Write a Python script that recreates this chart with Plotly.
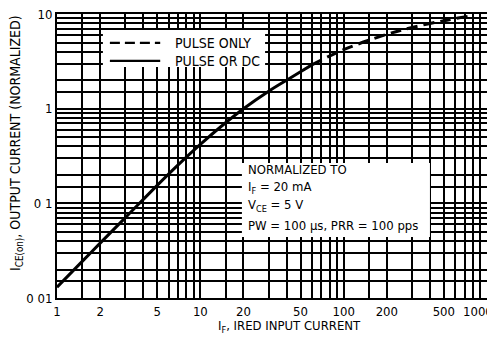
import plotly.graph_objects as go

# Data
solid_x = [1, 1.5, 2, 3, 5, 7, 10, 15, 20, 30, 40, 50, 60]
solid_y = [0.013, 0.0244, 0.038, 0.0706, 0.155, 0.255, 0.42, 0.71, 1.0, 1.53, 2.0, 2.45, 2.9]
dash_x = [60, 100, 200, 300, 500, 750]
dash_y = [2.9, 4.2, 6.1, 7.2, 8.5, 9.5]

x_tick_vals = [1, 2, 5, 10, 20, 50, 100, 200, 500, 1000]
x_tick_text = ["1", "2", "5", "10", "20", "50", "100", "200", "500", "1000"]
y_tick_vals = [0.01, 0.1, 1, 10]
y_tick_text = ["0 01", "0 1", "1", "10"]

x_minor_mult = [1.5, 2, 3, 4, 5, 6, 7, 8, 9]
y_minor_mult = [1.5, 2, 3, 4, 5, 6, 7, 8, 9]
x_decades = [1, 10, 100]
y_decades = [0.01, 0.1, 1]

x_grid = [d * m for d in x_decades for m in x_minor_mult]
y_grid = [d * m for d in y_decades for m in y_minor_mult]

legend_labels = ["PULSE ONLY", "PULSE OR DC"]
note_lines = ["NORMALIZED TO", "I<sub>F</sub> = 20 mA", "V<sub>CE</sub> = 5 V",
              "PW = 100 \u03bcs, PRR = 100 pps"]

FONT = "DejaVu Sans Condensed, Liberation Sans Narrow, sans-serif"
BLACK = "black"
GRID_W = 1.5

fig = go.Figure()
fig.add_trace(go.Scatter(x=solid_x, y=solid_y, mode="lines", name=legend_labels[1],
                         showlegend=False, line=dict(color=BLACK, width=3, shape="spline")))
fig.add_trace(go.Scatter(x=dash_x, y=dash_y, mode="lines", name=legend_labels[0],
                         showlegend=False,
                         line=dict(color=BLACK, width=3, dash="11px,6px", shape="spline")))

# white boxes behind legend and note (grid interrupted)
fig.add_shape(type="rect", xref="x", yref="y", x0=2.09, x1=28.3, y0=2.75, y1=6.78,
              fillcolor="white", line=dict(width=0), layer="above")
fig.add_shape(type="rect", xref="x", yref="y", x0=19.5, x1=400, y0=0.044, y1=0.267,
              fillcolor="white", line=dict(width=0), layer="above")

# legend (drawn by hand to match the original placement)
leg_y = [0.898, 0.835]
leg_dash = ["10px,5px", "solid"]
for lbl, yy, dsh in zip(legend_labels, leg_y, leg_dash):
    fig.add_shape(type="line", xref="paper", yref="paper", x0=0.123, x1=0.240,
                  y0=yy, y1=yy, line=dict(color=BLACK, width=2.2, dash=dsh), layer="above")
    fig.add_annotation(x=0.270, y=yy, xref="paper", yref="paper", text=lbl,
                       showarrow=False, xanchor="left", yanchor="middle",
                       font=dict(family=FONT, size=14, color=BLACK))

note_y = [0.451, 0.389, 0.326, 0.254]
for txt, yy in zip(note_lines, note_y):
    fig.add_annotation(x=0.440, y=yy, xref="paper", yref="paper", text=txt,
                       showarrow=False, xanchor="left", yanchor="middle",
                       font=dict(family=FONT, size=13, color=BLACK))

# last x tick label sits pulled in from the right edge, as in the original
fig.add_annotation(x=(478 - 57) / 430, y=(298 - 311.5) / 284, xref="paper", yref="paper",
                   text=x_tick_text[-1], showarrow=False, xanchor="center", yanchor="middle",
                   font=dict(family=FONT, size=13, color=BLACK))

# axis titles (page-pixel targets converted to plot fractions)
fig.add_annotation(x=(289 - 57) / 430, y=(298 - 326) / 284, xref="paper", yref="paper",
                   text="I<sub>F</sub>, IRED INPUT CURRENT", showarrow=False,
                   xanchor="center", yanchor="middle",
                   font=dict(family=FONT, size=13, color=BLACK))
fig.add_annotation(x=(16 - 57) / 430, y=(298 - 143) / 284, xref="paper", yref="paper",
                   text="I<sub>CE(on)</sub>, OUTPUT CURRENT (NORMALIZED)", showarrow=False,
                   textangle=-90, xanchor="center", yanchor="middle",
                   font=dict(family=FONT, size=14, color=BLACK))

axis_common = dict(type="log", showline=True, linecolor=BLACK, linewidth=2,
                   mirror=True, gridcolor=BLACK, gridwidth=GRID_W, zeroline=False,
                   automargin=False, ticks="", ticklabeloverflow="allow",
                   tickfont=dict(family=FONT, size=13, color=BLACK))

fig.update_xaxes(**axis_common, range=[0, 3.0001], tickvals=x_tick_vals[:-1],
                 ticktext=x_tick_text[:-1],
                 minor=dict(tickvals=x_grid, showgrid=True, gridcolor=BLACK, gridwidth=GRID_W))
fig.update_yaxes(**axis_common, range=[-2, 1.0001], tickvals=y_tick_vals, ticktext=y_tick_text,
                 minor=dict(tickvals=y_grid, showgrid=True, gridcolor=BLACK, gridwidth=GRID_W))

# page has an 8px body margin, so the figure is sized/offset to compensate
fig.update_layout(
    width=487, height=335,
    margin=dict(l=49, r=8, t=6, b=45),
    paper_bgcolor="white", plot_bgcolor="white",
    font=dict(family=FONT, size=13, color=BLACK),
    showlegend=False,
)

fig.write_html("out.html")
